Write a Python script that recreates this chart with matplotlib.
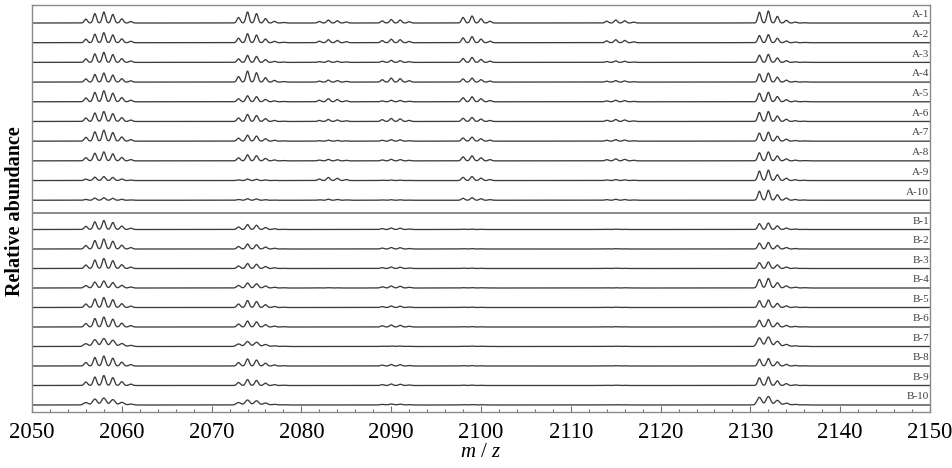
import numpy as np
import matplotlib
matplotlib.use("Agg")
import matplotlib.pyplot as plt
from matplotlib.ticker import MultipleLocator

plt.rcParams['font.family'] = ['Liberation Serif', 'DejaVu Serif']
plt.rcParams['mathtext.fontset'] = 'custom'
plt.rcParams['mathtext.it'] = 'Liberation Serif:italic'
plt.rcParams['mathtext.rm'] = 'Liberation Serif'

# ---- data -------------------------------------------------------------
labels_A = [f"A-{i}" for i in range(1, 11)]
labels_B = [f"B-{i}" for i in range(1, 11)]

# first isotope peak (m/z) of each cluster, and relative isotope pattern
cluster_start = [2056, 2073, 2082, 2089, 2098, 2114, 2131]
cluster_pattern = [
    [0.35, 0.85, 1.0, 0.78, 0.38, 0.14],
    [0.5, 1.0, 0.85, 0.4, 0.15, 0.05],
    [0.5, 1.0, 0.75, 0.35],
    [0.6, 1.0, 0.85, 0.35],
    [0.8, 1.0, 0.6, 0.25],
    [0.6, 1.0, 0.75, 0.3],
    [0.9, 1.0, 0.55, 0.22, 0.08, 0.03],
]

# cluster maximum intensity (arbitrary units) per spectrum
heights_A = [
    [11, 11, 3, 3.5, 7, 3, 12],
    [10, 9, 3, 3.5, 6, 3, 8],
    [10, 7, 1.5, 2, 5, 1.5, 8],
    [9, 11, 2, 4, 4, 1.5, 9],
    [11, 6, 3, 1.5, 5, 1.5, 9.5],
    [10, 7, 2, 3, 4, 2, 10],
    [11, 6, 1, 1.5, 4, 1.5, 9],
    [9, 6, 1.5, 1.5, 5, 2, 9],
    [4, 1.5, 3, 0.5, 4, 1, 10.5],
    [2.5, 1.5, 1, 0.5, 2.5, 1, 10],
]
heights_B = [
    [9, 5, 0, 1.5, 0.4, 0.3, 6.5],
    [10, 5, 0, 1.5, 0.4, 0.3, 6.5],
    [10, 5, 0, 1.5, 0.4, 0.3, 6.5],
    [7, 5, 0.3, 2, 0.4, 0.3, 9.5],
    [10, 7, 0, 1.5, 0.4, 0.3, 7.5],
    [10, 6, 0, 2, 0.4, 0.3, 7.5],
    [8, 5, 0, 0.5, 0.4, 0.3, 9.5],
    [10, 7, 0, 1.5, 0.4, 0.3, 7.5],
    [10, 6, 0, 1.5, 0.4, 0.3, 8.5],
    [7, 5, 0, 1, 0.4, 0.3, 8.5],
]
# peak width (sigma, m/z) per spectrum
width_A = [0.17, 0.17, 0.17, 0.17, 0.18, 0.18, 0.18, 0.18, 0.18, 0.18]
width_B = [0.18, 0.18, 0.18, 0.2, 0.18, 0.18, 0.25, 0.18, 0.18, 0.25]

xmin, xmax = 2050, 2150

# ---- drawing ---------------------------------------------------------
fig = plt.figure(figsize=(9.52, 4.68), dpi=100)
ax = fig.add_axes([32 / 952, 56 / 468, 898 / 952, 407 / 468])

mz = np.linspace(xmin, xmax, 8000)
px = 1 / 19.5  # one trace spacing = 19.5 px


def spectrum(heights, sigma):
    y = np.zeros_like(mz)
    for start, pat, h in zip(cluster_start, cluster_pattern, heights):
        for k, rel in enumerate(pat):
            y += h * px * rel * np.exp(-0.5 * ((mz - (start + k)) / sigma) ** 2)
    return y


line_col = '#3c3c3c'
lab_col = '#404040'
# B group (bottom)
for i, (lab, h, w) in enumerate(zip(labels_B, heights_B, width_B)):
    base = 9 - i
    ax.plot(mz, base + spectrum(h, w), color=line_col, lw=0.95)
    ax.text(2149.9, base + 0.42, lab, ha='right', va='center', fontsize=8, color=lab_col)
# A group (top)
for i, (lab, h, w) in enumerate(zip(labels_A, heights_A, width_A)):
    base = 10.5 + (9 - i) * 1.01
    ax.plot(mz, base + spectrum(h, w), color=line_col, lw=0.95)
    ax.text(2149.9, base + 0.42, lab, ha='right', va='center', fontsize=8, color=lab_col)

ax.axhline(9.85, color='#8a8a8a', lw=1.4)

ax.set_xlim(xmin, xmax)
ax.set_ylim(-7 * px, 400 * px)
ax.set_yticks([])
ax.xaxis.set_major_locator(MultipleLocator(10))
ax.xaxis.set_minor_locator(MultipleLocator(2))
ax.tick_params(axis='x', which='major', direction='in', length=4.5, width=0.8,
               color='#707070', labelsize=16.5, pad=7)
ax.tick_params(axis='x', which='minor', direction='in', length=2.2, width=0.8,
               color='#707070')
for s in ax.spines.values():
    s.set_color('#8a8a8a')
    s.set_linewidth(1.0)

ax.set_xlabel('$m$ / $z$', fontsize=15, labelpad=0)
fig.text(15 / 952, 1 - 211 / 468, 'Relative abundance', rotation=90,
         ha='center', va='center', fontsize=14.5, fontweight='bold')

fig.savefig('out.png', dpi=100)
